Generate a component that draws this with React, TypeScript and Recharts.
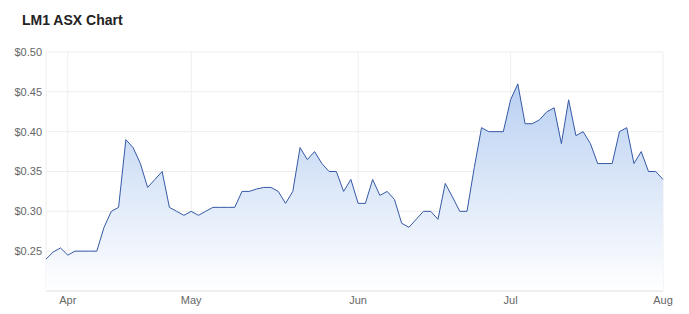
import { AreaChart, Area, XAxis, YAxis, CartesianGrid } from 'recharts';

// closing prices, one per trading day (late Mar -> 1 Aug)
const prices = [
  0.24, 0.249, 0.254, 0.245, 0.25, 0.25, 0.25, 0.25, 0.28, 0.3,
  0.305, 0.39, 0.38, 0.36, 0.33, 0.34, 0.35, 0.305, 0.3, 0.295,
  0.3, 0.295, 0.3, 0.305, 0.305, 0.305, 0.305, 0.325, 0.325, 0.328,
  0.33, 0.33, 0.325, 0.31, 0.325, 0.38, 0.365, 0.375, 0.36, 0.35,
  0.35, 0.325, 0.34, 0.31, 0.31, 0.34, 0.32, 0.325, 0.315, 0.285,
  0.28, 0.29, 0.3, 0.3, 0.29, 0.335, 0.318, 0.3, 0.3, 0.355,
  0.405, 0.4, 0.4, 0.4, 0.44, 0.46, 0.41, 0.41, 0.415, 0.425,
  0.43, 0.385, 0.44, 0.395, 0.4, 0.385, 0.36, 0.36, 0.36, 0.4,
  0.405, 0.36, 0.375, 0.35, 0.35, 0.34,
];

// index of the first trading day of each month
const monthTicks = [3, 20, 43, 64, 85];
const monthLabels = ['Apr', 'May', 'Jun', 'Jul', 'Aug'];

const priceTicks = [0.25, 0.3, 0.35, 0.4, 0.45, 0.5];

const chartData = prices.map((price, i) => ({ i, price }));

const tickStyle = { fontSize: 11, fill: '#666' };

export default function App() {
  return (
    <div
      style={{
        position: 'fixed',
        top: 0,
        left: 0,
        width: 689,
        height: 314,
        background: '#fff',
        fontFamily: '"Liberation Sans", Arial, sans-serif',
      }}
    >
      <div
        style={{
          position: 'absolute',
          top: 12,
          left: 22,
          fontSize: 14,
          lineHeight: '16px',
          fontWeight: 700,
          color: '#222',
        }}
      >
        LM1 ASX Chart
      </div>
      <div style={{ position: 'absolute', top: 0, left: 0 }}>
        <AreaChart
          width={689}
          height={314}
          data={chartData}
          margin={{ top: 52, right: 26, bottom: 0, left: 0 }}
        >
          <defs>
            <linearGradient id="priceFill" x1="0" y1="0" x2="0" y2="1">
              <stop offset="0%" stopColor="#b9d0f2" />
              <stop offset="100%" stopColor="#ffffff" />
            </linearGradient>
          </defs>
          <CartesianGrid stroke="#eeeeee" strokeWidth={1} />
          <XAxis
            dataKey="i"
            type="number"
            domain={[0, prices.length - 1]}
            ticks={monthTicks}
            tickFormatter={(v: number) => monthLabels[monthTicks.indexOf(v)]}
            height={23}
            tickLine={false}
            tickSize={0}
            tickMargin={5}
            axisLine={{ stroke: '#e3e3e3' }}
            tick={tickStyle}
          />
          <YAxis
            domain={[0.2, 0.5]}
            ticks={priceTicks}
            width={46}
            tickLine={false}
            tickSize={0}
            tickMargin={4}
            axisLine={false}
            tick={tickStyle}
            tickFormatter={(v: number) => '$' + v.toFixed(2)}
          />
          <Area
            type="linear"
            dataKey="price"
            stroke="#3559a6"
            strokeWidth={1}
            fill="url(#priceFill)"
            fillOpacity={1}
            dot={false}
            activeDot={false}
            isAnimationActive={false}
          />
        </AreaChart>
      </div>
    </div>
  );
}
